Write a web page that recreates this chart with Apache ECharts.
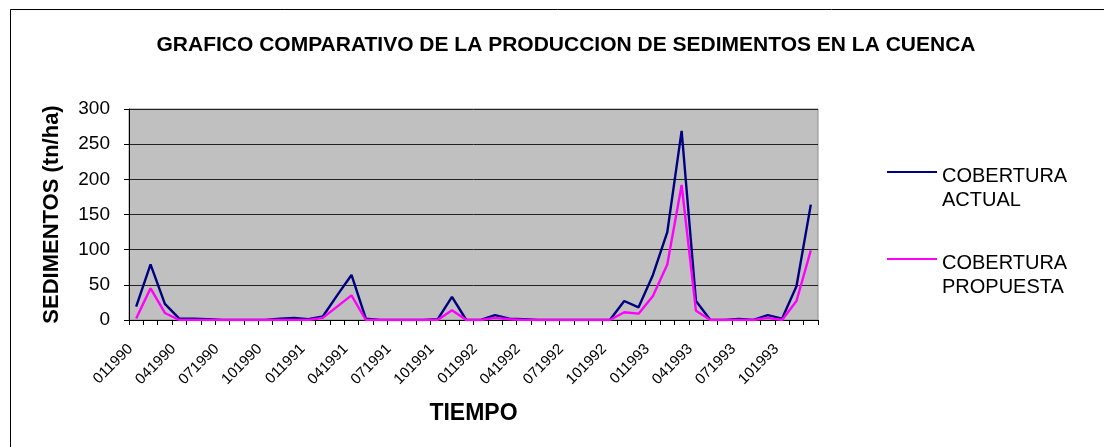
<!DOCTYPE html>
<html>
<head>
<meta charset="utf-8">
<script src="https://cdn.jsdelivr.net/npm/echarts@6/dist/echarts.min.js"></script>
<style>
  html, body { margin: 0; padding: 0; background: #fff; }
  #container { width: 1104px; height: 447px; }
</style>
</head>
<body>
<div id="container"></div>
<script>
var dom = document.getElementById('container');
var myChart = echarts.init(dom, null, { renderer: 'canvas' });

const meses = [
    '011990', '021990', '031990', '041990', '051990', '061990', '071990', '081990', '091990', '101990', '111990', '121990',
    '011991', '021991', '031991', '041991', '051991', '061991', '071991', '081991', '091991', '101991', '111991', '121991',
    '011992', '021992', '031992', '041992', '051992', '061992', '071992', '081992', '091992', '101992', '111992', '121992',
    '011993', '021993', '031993', '041993', '051993', '061993', '071993', '081993', '091993', '101993', '111993', '121993'
];
// sedimentos (tn/ha)
const coberturaActual = [
    19, 79, 23, 2, 2, 1, 0, 0, 0, 0, 2, 3,
    1, 5, 35, 64, 2, 0, 0, 0, 0, 1, 33, 0,
    0, 7, 2, 1, 0, 0, 0, 0, 0, 0, 27, 18,
    64, 125, 269, 27, 0, 0, 1.5, 0, 7, 2, 48, 164
];
const coberturaPropuesta = [
    2, 45, 10, 0, 0, 0, 0, 0, 0, 0, 0, 0,
    0, 3, 19, 35, 0, 0, 0, 0, 0, 0, 14, 0,
    0, 3, 1, 0, 0, 0, 0, 0, 0, 0, 11, 9,
    34, 79, 192, 13, 0, 0, 0, 0, 3, 0, 27, 99
];
const nombresSeries = ['COBERTURA\nACTUAL', 'COBERTURA\nPROPUESTA'];
const colores = ['#000080', '#ff00ff'];

const fuente = 'Liberation Sans, Arial, sans-serif';

var option = {
    animation: false,
    title: {
        text: 'GRAFICO COMPARATIVO DE LA PRODUCCION DE SEDIMENTOS EN LA CUENCA',
        left: 561,
        top: 30,
        textAlign: 'center',
        textStyle: { fontFamily: fuente, fontSize: 21, fontWeight: 'bold', color: '#000' }
    },
    grid: {
        left: 129,
        right: 286,
        top: 109,
        bottom: 127,
        show: true,
        backgroundColor: '#c0c0c0',
        borderColor: '#8c8c8c',
        borderWidth: 1
    },
    xAxis: {
        type: 'category',
        data: meses,
        boundaryGap: true,
        name: 'TIEMPO',
        nameLocation: 'middle',
        nameGap: 82,
        nameTextStyle: { fontFamily: fuente, fontSize: 23, fontWeight: 'bold', color: '#000' },
        axisLine: { lineStyle: { color: '#000', width: 1 } },
        axisTick: { show: true, interval: 0, length: 5, lineStyle: { color: '#000' } },
        axisLabel: {
            interval: 2,
            rotate: 45,
            margin: 21,
            padding: [0, 8, 0, 0],
            fontFamily: fuente,
            fontSize: 15,
            color: '#000'
        },
        splitLine: { show: false }
    },
    yAxis: {
        type: 'value',
        min: 0,
        max: 300,
        interval: 50,
        name: 'SEDIMENTOS (tn/ha)',
        nameLocation: 'middle',
        nameGap: 66,
        nameTextStyle: { fontFamily: fuente, fontSize: 22, fontWeight: 'bold', color: '#000' },
        axisLine: { show: true, lineStyle: { color: '#000', width: 1 } },
        axisTick: { show: true, length: 5, lineStyle: { color: '#000' } },
        axisLabel: { margin: 19, fontFamily: fuente, fontSize: 19, color: '#000' },
        splitLine: { show: true, lineStyle: { color: '#222', width: 1 } }
    },
    series: [
        {
            name: nombresSeries[0],
            type: 'line',
            data: coberturaActual,
            symbol: 'none',
            lineStyle: { color: colores[0], width: 2.4 },
            itemStyle: { color: colores[0] }
        },
        {
            name: nombresSeries[1],
            type: 'line',
            data: coberturaPropuesta,
            symbol: 'none',
            lineStyle: { color: colores[1], width: 2.4 },
            itemStyle: { color: colores[1] }
        }
    ],
    graphic: [
        // marco exterior
        {
            type: 'rect', left: 8, top: 7, silent: true,
            shape: { width: 1200, height: 600 },
            style: { fill: 'none', stroke: '#000', lineWidth: 1 }
        },
        // leyenda
        {
            type: 'line', silent: true,
            shape: { x1: 887, y1: 172, x2: 937, y2: 172 },
            style: { stroke: colores[0], lineWidth: 2 }
        },
        {
            type: 'text', left: 942, top: 164, silent: true,
            style: { text: nombresSeries[0], fontFamily: fuente, fontSize: 20, lineHeight: 24, fill: '#000' }
        },
        {
            type: 'line', silent: true,
            shape: { x1: 887, y1: 259, x2: 937, y2: 259 },
            style: { stroke: colores[1], lineWidth: 2 }
        },
        {
            type: 'text', left: 942, top: 251, silent: true,
            style: { text: nombresSeries[1], fontFamily: fuente, fontSize: 20, lineHeight: 24, fill: '#000' }
        }
    ]
};

myChart.setOption(option);
window.addEventListener('resize', myChart.resize);
</script>
</body>
</html>
